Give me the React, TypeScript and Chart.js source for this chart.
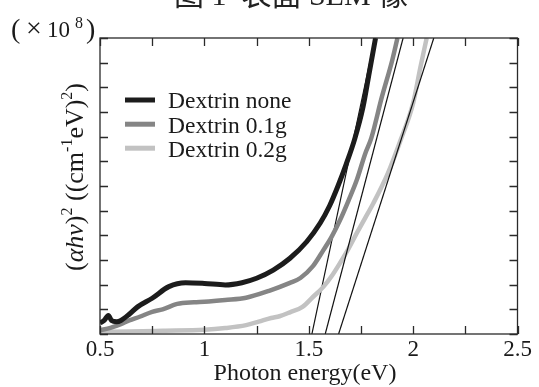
import React, { useEffect, useRef } from "react";
import { Chart, registerables } from "chart.js";

Chart.register(...registerables);

// ---- data ----
const ENERGY_NONE = [0.5, 0.52, 0.54, 0.555, 0.58, 0.6, 0.64, 0.68, 0.75, 0.83, 0.91, 1.0, 1.1, 1.18, 1.25, 1.33, 1.41, 1.49, 1.555, 1.6, 1.64, 1.68, 1.72, 1.76, 1.79, 1.82];
const VALUES_NONE = [0.45, 0.55, 0.75, 0.55, 0.5, 0.55, 0.8, 1.1, 1.45, 1.92, 2.08, 2.05, 1.99, 2.08, 2.26, 2.59, 3.07, 3.74, 4.5, 5.2, 6.0, 6.9, 7.9, 9.2, 10.6, 12.0];

const ENERGY_01 = [0.5, 0.55, 0.6, 0.64, 0.69, 0.75, 0.8, 0.87, 0.95, 1.0, 1.1, 1.2, 1.31, 1.41, 1.46, 1.52, 1.57, 1.61, 1.65, 1.69, 1.73, 1.77, 1.8, 1.85, 1.9, 1.925];
const VALUES_01 = [0.15, 0.25, 0.4, 0.55, 0.7, 0.9, 1.0, 1.22, 1.29, 1.31, 1.38, 1.47, 1.75, 2.07, 2.27, 2.75, 3.4, 3.95, 4.62, 5.4, 6.24, 7.3, 7.95, 9.6, 11.1, 12.0];

const ENERGY_02 = [0.5, 0.64, 0.8, 1.0, 1.1, 1.2, 1.26, 1.32, 1.36, 1.41, 1.47, 1.52, 1.57, 1.61, 1.65, 1.69, 1.73, 1.77, 1.81, 1.88, 1.94, 2.0, 2.035, 2.065];
const VALUES_02 = [0.08, 0.1, 0.13, 0.17, 0.24, 0.36, 0.5, 0.65, 0.72, 0.88, 1.1, 1.5, 1.91, 2.35, 2.88, 3.45, 4.09, 4.7, 5.31, 6.53, 7.86, 9.36, 10.82, 12.0];

// tangent (extrapolation) lines: [energy at y=0, energy at y=12]
const TANGENT_ENERGY_1 = [1.515, 1.817];
const TANGENT_ENERGY_2 = [1.579, 1.952];
const TANGENT_ENERGY_3 = [1.643, 2.099];
const TANGENT_VALUES = [0, 12];

const SERIES_NAMES = ["Dextrin none", "Dextrin 0.1g", "Dextrin 0.2g"];
const SERIES_COLORS = ["#1c1c1c", "#858585", "#c2c2c2"];

const X_MIN = 0.5;
const X_MAX = 2.5;
const X_LABELS = [0.5, 1, 1.5, 2, 2.5];
const X_TICK_STEP = 0.25;
const Y_MIN = 0;
const Y_MAX = 12;
const Y_TICK_STEP = 1;

const TITLE = "图 1  表面 SEM 像";
const X_TITLE = "Photon energy(eV)";

const pts = (xs: number[], ys: number[]) => xs.map((x, i) => ({ x, y: ys[i] }));

const SERIF = "'Liberation Serif', 'Times New Roman', serif";

const decorPlugin = {
  id: "decor",
  afterDraw(chart: any) {
    const ctx = chart.ctx as CanvasRenderingContext2D;
    const { left, right, top, bottom } = chart.chartArea;
    const xs = chart.scales.x;
    const ys = chart.scales.y;
    ctx.save();
    ctx.strokeStyle = "#2a2a2a";
    ctx.lineWidth = 1.3;
    ctx.strokeRect(left, top, right - left, bottom - top);

    const TL = 8;
    ctx.beginPath();
    for (let v = X_MIN; v <= X_MAX + 1e-9; v += X_TICK_STEP) {
      const px = Math.round(xs.getPixelForValue(v)) + 0.5;
      ctx.moveTo(px, bottom);
      ctx.lineTo(px, bottom - TL);
      ctx.moveTo(px, top);
      ctx.lineTo(px, top + TL);
    }
    for (let v = Y_MIN; v <= Y_MAX + 1e-9; v += Y_TICK_STEP) {
      const py = Math.round(ys.getPixelForValue(v)) + 0.5;
      ctx.moveTo(left, py);
      ctx.lineTo(left + TL, py);
      ctx.moveTo(right, py);
      ctx.lineTo(right - TL, py);
    }
    ctx.stroke();

    // tick labels
    ctx.fillStyle = "#1a1a1a";
    ctx.font = `23px ${SERIF}`;
    ctx.textAlign = "center";
    ctx.textBaseline = "alphabetic";
    X_LABELS.forEach((v) => {
      ctx.fillText(String(v), xs.getPixelForValue(v), 355.5);
    });

    // x title
    ctx.font = `24px ${SERIF}`;
    ctx.fillText(X_TITLE, 305, 380);

    // title (cut off at the top)
    ctx.font = `30px ${SERIF}, 'Noto Sans CJK SC'`;
    ctx.fillStyle = "#222";
    ctx.fillText(TITLE, 291, 5);

    // (×10^8)
    ctx.fillStyle = "#1a1a1a";
    ctx.textAlign = "left";
    ctx.font = `28px ${SERIF}`;
    ctx.fillText("(", 11, 38);
    ctx.fillText(")", 86, 38);
    ctx.font = `28px ${SERIF}`;
    ctx.fillText("\u00d7", 26, 37);
    ctx.font = `23px ${SERIF}`;
    ctx.fillText("10", 47, 37);
    ctx.font = `16px ${SERIF}`;
    ctx.fillText("8", 75, 28);

    // y title, rotated
    ctx.save();
    ctx.translate(83, 177);
    ctx.rotate(-Math.PI / 2);
    const base = 26;
    const sup = 16;
    const parts: { t: string; f: string; dy: number }[] = [
      { t: "(", f: `${base}px ${SERIF}`, dy: 0 },
      { t: "\u03b1hv", f: `italic ${base}px ${SERIF}`, dy: 0 },
      { t: ")", f: `${base}px ${SERIF}`, dy: 0 },
      { t: "2", f: `${sup}px ${SERIF}`, dy: -11 },
      { t: " ((cm", f: `${base}px ${SERIF}`, dy: 0 },
      { t: "-1", f: `${sup}px ${SERIF}`, dy: -11 },
      { t: "eV)", f: `${base}px ${SERIF}`, dy: 0 },
      { t: "2", f: `${sup}px ${SERIF}`, dy: -11 },
      { t: ")", f: `${base}px ${SERIF}`, dy: 0 },
    ];
    let total = 0;
    parts.forEach((p) => {
      ctx.font = p.f;
      total += ctx.measureText(p.t).width;
    });
    let cx = -total / 2;
    parts.forEach((p) => {
      ctx.font = p.f;
      ctx.fillText(p.t, cx, p.dy);
      cx += ctx.measureText(p.t).width;
    });
    ctx.restore();

    // legend
    const rows = [108.3, 132.5, 156.5];
    SERIES_NAMES.forEach((name, i) => {
      const y = rows[i];
      ctx.strokeStyle = SERIES_COLORS[i];
      ctx.lineWidth = 5;
      ctx.beginPath();
      ctx.moveTo(125, y - 8.3);
      ctx.lineTo(155, y - 8.3);
      ctx.stroke();
      ctx.fillStyle = "#1a1a1a";
      ctx.font = `23.5px ${SERIF}`;
      ctx.textAlign = "left";
      ctx.fillText(name, 168, y);
    });
    ctx.restore();
  },
};

export default function App() {
  const ref = useRef<HTMLCanvasElement | null>(null);
  useEffect(() => {
    document.body.style.margin = "0";
    const canvas = ref.current!;
    const thin = { borderColor: "#111", borderWidth: 1.2, pointRadius: 0, fill: false };
    const chart = new Chart(canvas, {
      type: "line",
      data: {
        datasets: [
          { label: SERIES_NAMES[0], data: pts(ENERGY_NONE, VALUES_NONE), borderColor: SERIES_COLORS[0], borderWidth: 5, pointRadius: 0, cubicInterpolationMode: "monotone", order: 1 },
          { label: SERIES_NAMES[1], data: pts(ENERGY_01, VALUES_01), borderColor: SERIES_COLORS[1], borderWidth: 4.5, pointRadius: 0, cubicInterpolationMode: "monotone", order: 2 },
          { label: SERIES_NAMES[2], data: pts(ENERGY_02, VALUES_02), borderColor: SERIES_COLORS[2], borderWidth: 4.5, pointRadius: 0, cubicInterpolationMode: "monotone", order: 3 },
          { label: "t1", data: pts(TANGENT_ENERGY_1, TANGENT_VALUES), ...thin, order: 4 },
          { label: "t2", data: pts(TANGENT_ENERGY_2, TANGENT_VALUES), ...thin, order: 0 },
          { label: "t3", data: pts(TANGENT_ENERGY_3, TANGENT_VALUES), ...thin, order: 0 },
        ] as any,
      },
      options: {
        animation: false,
        responsive: false,
        layout: { padding: { left: 100, right: 21.5, top: 38, bottom: 53 } },
        plugins: { legend: { display: false }, tooltip: { enabled: false }, title: { display: false } },
        scales: {
          x: { type: "linear", min: X_MIN, max: X_MAX, display: false },
          y: { type: "linear", min: Y_MIN, max: Y_MAX, display: false },
        },
      },
      plugins: [decorPlugin],
    });
    return () => chart.destroy();
  }, []);
  return (
    <div style={{ position: "fixed", left: 0, top: 0, width: 539, height: 387, background: "#fff" }}>
      <canvas ref={ref} width={539} height={387} style={{ display: "block" }} />
    </div>
  );
}
